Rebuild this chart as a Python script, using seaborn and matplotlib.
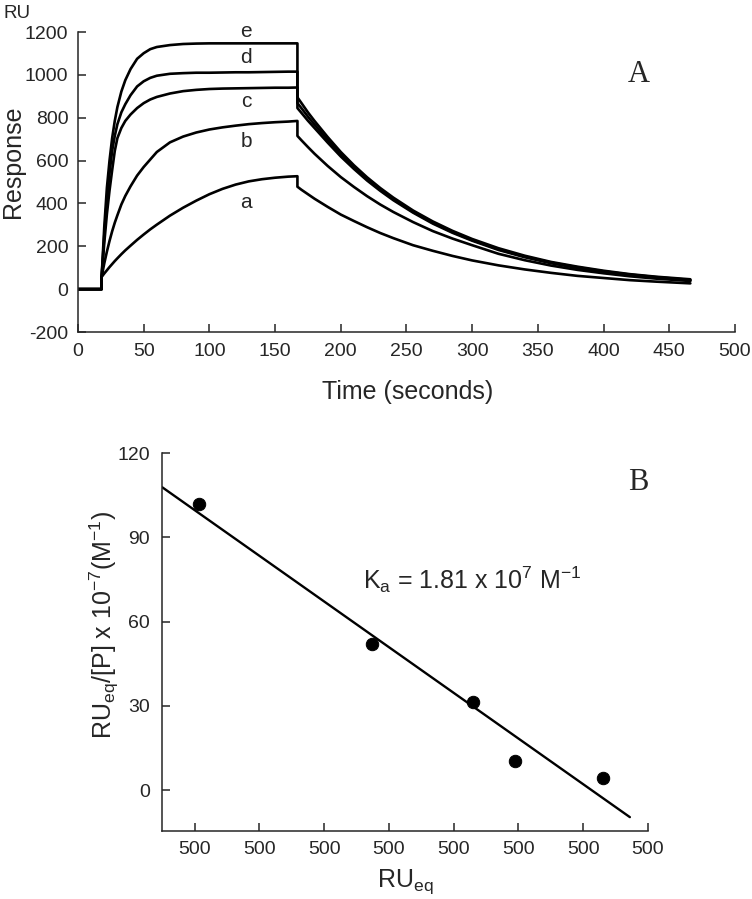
import numpy as np
import pandas as pd
import matplotlib
matplotlib.use("Agg")
import matplotlib.pyplot as plt
import seaborn as sns

# sensorgram (panel A): time points of the three phases
t_base = [0, 18]
t_assoc = [18, 20, 22, 24, 26, 28, 30, 33, 36, 40, 45, 50, 55, 60, 70, 80, 90,
           100, 110, 120, 130, 140, 150, 160, 167]
t_dissoc = [167, 170, 175, 180, 190, 200, 210, 220, 230, 240, 255, 270, 285,
            300, 320, 340, 360, 380, 400, 420, 440, 466]

base = [0, 0]
assoc_a = [57, 73, 88, 103, 117, 131, 144, 163, 181, 203, 230, 255, 279, 301,
           343, 380, 413, 443, 468, 488, 503, 513, 520, 525, 527]
assoc_b = [57, 120, 175, 225, 270, 310, 345, 395, 435, 480, 530, 570, 605, 640,
           685, 712, 731, 745, 755, 763, 770, 775, 779, 782, 785]
assoc_c = [57, 215, 350, 460, 555, 645, 705, 752, 785, 815, 845, 868, 885, 897,
           913, 924, 930, 934, 936, 937, 938, 939, 940, 940, 941]
assoc_d = [57, 250, 420, 540, 645, 715, 770, 825, 863, 905, 946, 970, 986, 996,
           1005, 1008, 1010, 1010, 1011, 1012, 1012, 1013, 1014, 1015, 1015]
assoc_e = [57, 290, 473, 600, 705, 785, 850, 922, 975, 1027, 1075, 1101, 1120,
           1130, 1139, 1144, 1146, 1147, 1147, 1147, 1147, 1147, 1147, 1147, 1147]

dissoc_a = [478, 464, 443, 422, 384, 348, 318, 289, 262, 238, 205, 179, 155,
            134, 111, 92, 76, 62, 52, 42, 35, 27]
dissoc_b = [715, 695, 663, 632, 575, 523, 477, 434, 395, 360, 313, 271, 236,
            205, 165, 135, 110, 90, 74, 60, 49, 38]
dissoc_c = [845, 823, 786, 752, 684, 619, 561, 507, 459, 415, 357, 306, 263,
            226, 183, 149, 121, 99, 81, 66, 54, 41]
dissoc_d = [868, 845, 805, 768, 697, 629, 569, 514, 465, 420, 361, 310, 267,
            229, 186, 152, 124, 102, 83, 68, 56, 43]
dissoc_e = [895, 869, 825, 785, 710, 640, 578, 522, 472, 427, 367, 316, 272,
            234, 191, 156, 127, 105, 86, 70, 58, 46]

curve_names = ["a", "b", "c", "d", "e"]
label_time = 128
label_resp = [403, 688, 874, 1082, 1201]

# Scatchard plot (panel B)
ru_eq = [506, 774, 930, 994, 1131]
ru_ratio = [101.9, 51.9, 31.5, 10.3, 4.2]
fit_range = [450, 1172]
b_ticks = [500, 600, 700, 800, 900, 1000, 1100, 1200]
b_tick_labels = ["500"] * 8

sns.set_style("ticks")
plt.rcParams["font.family"] = ["Liberation Sans", "DejaVu Sans"]
plt.rcParams["mathtext.default"] = "regular"
plt.rcParams["axes.unicode_minus"] = False
plt.rcParams["axes.linewidth"] = 1.1

fig = plt.figure(figsize=(7.52, 8.99), dpi=100)
ax1 = fig.add_axes([0.1037, 0.6307, 0.8737, 0.3337])
ax2 = fig.add_axes([0.2158, 0.0756, 0.6459, 0.4205])

# --- panel A ---
assocs = [assoc_a, assoc_b, assoc_c, assoc_d, assoc_e]
dissocs = [dissoc_a, dissoc_b, dissoc_c, dissoc_d, dissoc_e]
rows = []
for name, asc, dis in zip(curve_names, assocs, dissocs):
    tt = t_base + t_assoc + t_dissoc
    rr = base + asc + dis
    rows.append(pd.DataFrame({"time": tt, "resp": rr, "curve": name}))
df = pd.concat(rows, ignore_index=True)

for name in curve_names:
    sub = df[df["curve"] == name]
    sns.lineplot(data=sub, x="time", y="resp", ax=ax1, color="black",
                 linewidth=1.9, estimator=None, sort=False)

for name, y in zip(curve_names, label_resp):
    ax1.text(label_time, y, name, fontsize=15, ha="center", va="center",
             clip_on=False)

ax1.set_xlim(0, 500)
ax1.set_ylim(-200, 1200)
ax1.set_xticks(np.arange(0, 501, 50))
ax1.set_yticks(np.arange(-200, 1201, 200))
ax1.tick_params(direction="in", length=6, width=1.1, labelsize=14)
ax1.tick_params(axis="y", pad=7)
ax1.tick_params(axis="x", pad=8)
ax1.set_xlabel("Time (seconds)", fontsize=18)
ax1.set_ylabel("Response", fontsize=18)
ax1.xaxis.set_label_coords(0.502, -0.16)
ax1.yaxis.set_label_coords(-0.08, 0.568)
ax1.text(427, 1000, "A", fontsize=22, family="Liberation Serif",
         ha="center", va="center")
fig.text(0.004, 1 - 13 / 899, "RU", fontsize=13.5, ha="left", va="center")
sns.despine(ax=ax1)

# --- panel B ---
slope, intercept = np.polyfit(ru_eq, ru_ratio, 1)
fit_x = np.array(fit_range)
fit_y = slope * fit_x + intercept
sns.lineplot(x=fit_x, y=fit_y, ax=ax2, color="black", linewidth=1.7)
sns.scatterplot(x=ru_eq, y=ru_ratio, ax=ax2, color="black", s=80,
                edgecolor="black", zorder=3)

ax2.set_xlim(450, 1200)
ax2.set_ylim(-14.6, 120)
ax2.set_xticks(b_ticks)
ax2.set_xticklabels(b_tick_labels)
ax2.set_yticks([0, 30, 60, 90, 120])
ax2.tick_params(direction="in", length=6, width=1.1, labelsize=14)
ax2.tick_params(axis="y", pad=9)
ax2.tick_params(axis="x", pad=7)
ax2.set_xlabel("RU$_{eq}$", fontsize=18)
ax2.set_ylabel("RU$_{eq}$/[P] x 10$^{-7}$(M$^{-1}$)", fontsize=18)
ax2.xaxis.set_label_coords(0.5, -0.095)
ax2.yaxis.set_label_coords(-0.084, 0.545)
ax2.text(760, 74.8, "K$_a$ = 1.81 x 10$^7$ M$^{-1}$", fontsize=18,
         ha="left", va="center")
ax2.text(1185, 109.4, "B", fontsize=22, family="Liberation Serif",
         ha="center", va="center")
sns.despine(ax=ax2)

fig.savefig("out.png", dpi=100)
